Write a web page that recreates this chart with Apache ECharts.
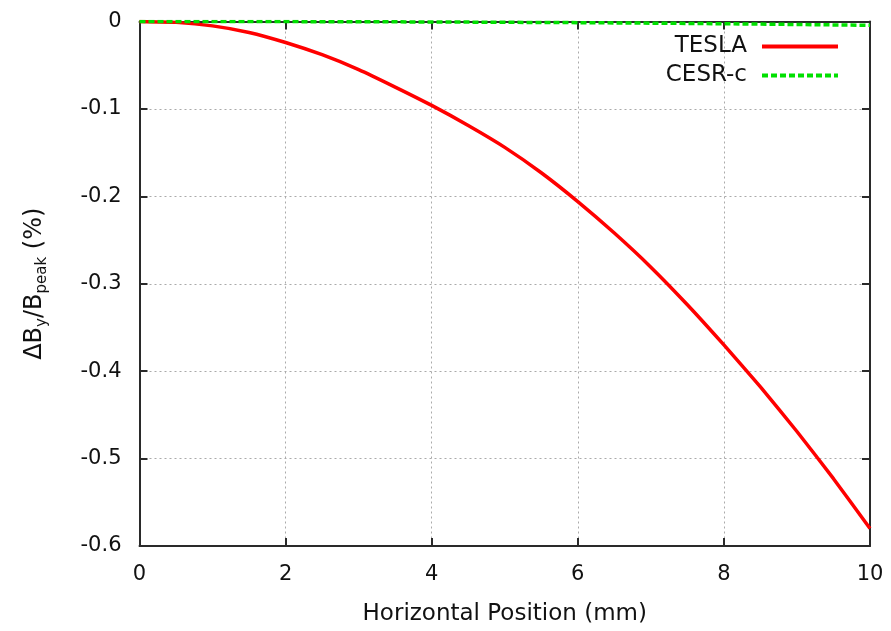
<!DOCTYPE html>
<html>
<head>
<meta charset="utf-8">
<script src="https://cdn.jsdelivr.net/npm/echarts@6/dist/echarts.min.js"></script>
<style>html,body{margin:0;padding:0;background:#fff}#c{width:891px;height:631px}</style>
</head>
<body>
<div id="c"></div>
<script>
const xPositions = [0,0.5,1,1.5,2,2.5,3,3.5,4,4.5,5,5.5,6,6.5,7,7.5,8,8.5,9,9.5,10];
const teslaValues = [0,-0.001,-0.005,-0.0125,-0.024,-0.038,-0.055,-0.075,-0.096,-0.119,-0.144,-0.173,-0.206,-0.242,-0.281,-0.324,-0.370,-0.418,-0.469,-0.523,-0.580];
const cesrcValues = [0,0,0,0,-0.0001,-0.0002,-0.0003,-0.0004,-0.0005,-0.0007,-0.0009,-0.0011,-0.0013,-0.0016,-0.0019,-0.0022,-0.0026,-0.003,-0.0034,-0.0039,-0.0044];
const seriesNames = ['TESLA','CESR-c'];
const xTickValues = [0,2,4,6,8,10];
const yTickValues = [0,-0.1,-0.2,-0.3,-0.4,-0.5,-0.6];

const FONT = 'DejaVu Sans';
const frameColor = '#2a2a2a';
const textColor = '#111';
const pair = (xs, ys) => xs.map((x, i) => [x, ys[i]]);

const chart = echarts.init(document.getElementById('c'), null, {renderer: 'canvas'});
const baseX = {
  type: 'value', min: xTickValues[0], max: xTickValues[xTickValues.length-1], interval: 2,
  axisLine: {show: true, onZero: false, lineStyle: {color: frameColor, width: 2}},
  axisTick: {show: true, inside: true, length: 8, lineStyle: {color: frameColor, width: 2}},
};
const baseY = {
  type: 'value', min: yTickValues[yTickValues.length-1], max: yTickValues[0], interval: 0.1,
  axisLine: {show: true, onZero: false, lineStyle: {color: frameColor, width: 2}},
  axisTick: {show: true, inside: true, length: 8, lineStyle: {color: frameColor, width: 2}},
};
chart.setOption({
  animation: false,
  backgroundColor: '#fff',
  grid: {left: 139.5, right: 21, top: 21.5, bottom: 81, containLabel: false},
  legend: {
    data: seriesNames,
    orient: 'vertical', align: 'right',
    right: 46, top: 30,
    itemWidth: 76, itemHeight: 14, itemGap: 6,
    itemStyle: {opacity: 0},
    lineStyle: {width: 4},
    textStyle: {fontFamily: FONT, fontSize: 23, color: textColor, padding: [0, 10, 0, 0]}
  },
  xAxis: [
    Object.assign({}, baseX, {
      position: 'bottom',
      name: 'Horizontal Position (mm)', nameLocation: 'middle', nameGap: 57,
      nameTextStyle: {fontFamily: FONT, fontSize: 23, color: textColor},
      axisLabel: {fontFamily: FONT, fontSize: 21, color: textColor, margin: 18,
        formatter: v => String(v)},
      splitLine: {show: true, lineStyle: {color: '#aaaaaa', width: 1, type: [2, 3]}}
    }),
    Object.assign({}, baseX, {
      position: 'top', axisLabel: {show: false}, splitLine: {show: false}
    })
  ],
  yAxis: [
    Object.assign({}, baseY, {
      position: 'left',
      name: '{m|ΔB}{s|y}{m|/B}{s|peak}{m| (%)}', nameLocation: 'middle', nameGap: 90, nameRotate: 90,
      nameTextStyle: {fontFamily: FONT, color: textColor,
        rich: {
          m: {fontFamily: FONT, fontSize: 24, color: textColor},
          s: {fontFamily: FONT, fontSize: 15, color: textColor, padding: [14, 0, 0, 0]}
        }},
      axisLabel: {fontFamily: FONT, fontSize: 21, color: textColor, margin: 18,
        formatter: v => (Math.abs(v) < 1e-9 ? '0' : v.toFixed(1))},
      splitLine: {show: true, lineStyle: {color: '#aaaaaa', width: 1, type: [2, 3]}}
    }),
    Object.assign({}, baseY, {
      position: 'right', axisLabel: {show: false}, splitLine: {show: false}
    })
  ],
  series: [
    {
      name: seriesNames[0], type: 'line', xAxisIndex: 0, yAxisIndex: 0,
      data: pair(xPositions, teslaValues), showSymbol: false, symbol: 'none',
      smooth: 0.15,
      lineStyle: {color: '#ff0000', width: 3.5}, itemStyle: {color: '#ff0000'}
    },
    {
      name: seriesNames[1], type: 'line', xAxisIndex: 0, yAxisIndex: 0,
      data: pair(xPositions, cesrcValues), showSymbol: false, symbol: 'none',
      lineStyle: {color: '#00e000', width: 3.5, type: [6, 3]}, itemStyle: {color: '#00e000'}
    }
  ]
});
</script>
</body>
</html>
